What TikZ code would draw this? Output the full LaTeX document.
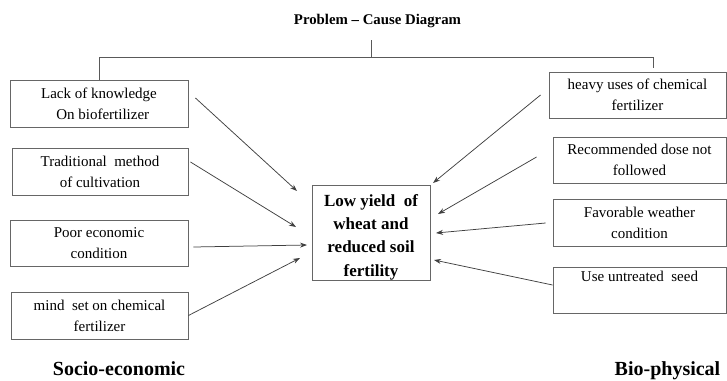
\documentclass[tikz,border=0pt]{standalone}
\usepackage{fontspec}
\setmainfont{Liberation Serif}
\usetikzlibrary{arrows.meta,calc}
\begin{document}
\begin{tikzpicture}[x=1pt,y=-1pt,
  box/.style={draw=black!60,line width=0.9pt,rectangle,inner sep=0pt,align=center,
    font=\fontsize{15}{21}\selectfont},
  arr/.style={-{Stealth[length=7pt,width=5pt]},draw=black!75,line width=0.75pt},
  hd/.style={font=\bfseries\fontsize{20}{22}\selectfont,inner sep=0pt},
  ln/.style={draw=black!65,line width=0.9pt}]
\useasboundingbox (0,0) rectangle (727,380);
% title
\node[font=\bfseries\fontsize{14.8}{16}\selectfont,inner sep=0pt] (T) at (377.5,21) {Problem -- Cause Diagram};
% left boxes
\node[box,minimum width=178pt,minimum height=47pt] (L1) at (99,103.5) {Lack of knowledge\\ \ \ On biofertilizer};
\node[box,minimum width=176pt,minimum height=47pt] (L2) at (100,171.5) {Traditional\ \ method\\of cultivation};
\node[box,minimum width=178pt,minimum height=46pt] (L3) at (99,243) {Poor economic\\condition};
\node[box,minimum width=177pt,minimum height=47pt] (L4) at (99.5,315.5) {mind\ \ set on chemical\\fertilizer};
% right boxes
\node[box,minimum width=177pt,minimum height=46pt] (R1) at (637.5,95) {heavy uses of chemical\\fertilizer};
\node[box,minimum width=173pt,minimum height=46pt] (R2) at (639.5,160) {Recommended dose not\\followed};
\node[box,minimum width=173pt,minimum height=47pt] (R3) at (639.5,222.5) {Favorable weather\\condition};
\node[box,minimum width=173pt,minimum height=46pt] (R4) at (639.5,290) {Use untreated\ \ seed\\\strut};
% center box and its text
\node[draw=black!60,line width=0.9pt,rectangle,minimum width=118pt,minimum height=95pt] (C) at (371,232.5) {};
\node[font=\bfseries\fontsize{17}{23.3}\selectfont,align=center,inner sep=0pt] (CT) at (371,237)
  {Low yield\ \ of\\wheat and\\reduced soil\\fertility};
% headings
\node[hd,anchor=base] (SE) at (119,375) {Socio-economic};
\node[hd,anchor=base] (BP) at (667.5,375) {Bio-physical};
% tree
\coordinate (tk) at (371,40);
\coordinate (bar) at (371,57.5);
\coordinate (rt) at (653,68);
\draw[ln] (tk) -- (bar);
\draw[ln] (L1.north) |- (bar) -| (rt);
% arrow tips
\coordinate (t1) at (297,191);
\coordinate (t2) at (296,227);
\coordinate (t3) at (307,245);
\coordinate (t4) at (300,258);
\coordinate (u1) at (433,183);
\coordinate (u2) at (438,214);
\coordinate (u3) at (436,233);
\coordinate (u4) at (434,260);
\draw[arr] ([shift={(7,-5.5)}]L1.east) -- (t1);
\draw[arr] ([shift={(2,-9.5)}]L2.east) -- (t2);
\draw[arr] ([shift={(5,4)}]L3.east) -- (t3);
\draw[arr] (L4.east) -- (t4);
\draw[arr] ([shift={(-8,0)}]R1.west) -- (u1);
\draw[arr] ([shift={(-16,-3)}]R2.west) -- (u2);
\draw[arr] ([shift={(-7,0.5)}]R3.west) -- (u3);
\draw[arr] ([shift={(0,-5)}]R4.west) -- (u4);
\end{tikzpicture}
\end{document}
